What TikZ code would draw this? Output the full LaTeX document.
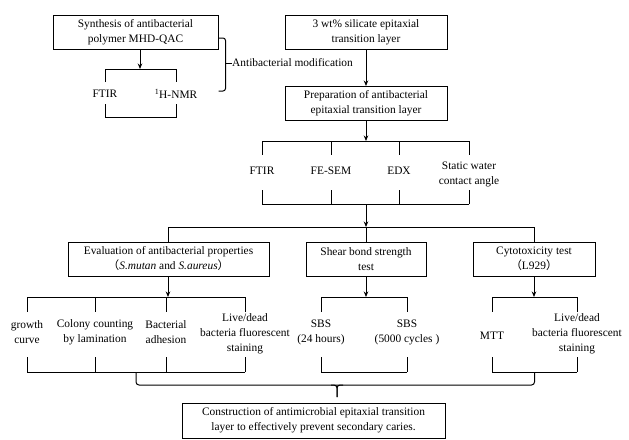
\documentclass[tikz,border=0pt]{standalone}
\usepackage{fontspec}
\setmainfont{Liberation Serif}
\newfontfamily\cjk{Noto Sans CJK SC}
\usetikzlibrary{arrows.meta,positioning,calc}

\begin{document}
\begin{tikzpicture}[
    x=1pt, y=-1pt,
    font=\fontsize{11.4}{15}\selectfont,
    box/.style={draw=black, line width=1pt, align=center, inner sep=2pt, minimum height=34pt},
    lbl/.style={align=center, inner sep=1pt},
    ln/.style={line width=1pt},
    arr/.style={line width=1pt, -{Stealth[length=5.5pt, width=4.5pt]}}
]
  \useasboundingbox (0,0) rectangle (629,439);

  % =========================================================================
  % TOPO: POLIMERO E CAMADA DE SILICATO
  % =========================================================================
  \node[box, minimum width=165pt] (syn) at (135.5,32) {Synthesis of antibacterial\\polymer MHD-QAC};
  \node[box, minimum width=162pt] (sil) at (366,32) {3 wt\% silicate epitaxial\\transition layer};
  \node[box, minimum width=162pt] (prep) at (366,103.5) {Preparation of antibacterial\\epitaxial transition layer};

  % caracterizacao do polimero
  \node[lbl] (ftira) at (105,94) {FTIR};
  \node[lbl] (nmr) at (176,94) {\textsuperscript{1}H-NMR};
  \coordinate (atop) at (140,69);
  \coordinate (abot) at (140,117);
  \draw[arr] (syn.south -| atop) -- (atop);
  \draw[ln] (ftira |- atop) ++(0,13) -- (ftira |- atop) -- (nmr |- atop) -- ++(0,13);
  \draw[ln] (ftira |- abot) ++(0,-13) -- (ftira |- abot) -- (nmr |- abot) -- ++(0,-13);

  % chave da modificacao
  \node[lbl, anchor=west, inner sep=0pt] (mod) at (232,63) {Antibacterial modification};
  \draw[ln, rounded corners=2.5pt] ([yshift=-6pt]syn.east) -- ++(7,0) -- ++(0,53) -- ++(-7,0);
  \draw[ln] (mod.west) -- ++(-7,0);
  \draw[arr] (sil) -- (prep);

  % =========================================================================
  % CARACTERIZACAO DA CAMADA
  % =========================================================================
  \node[lbl] (ftirb) at (262,171) {FTIR};
  \node[lbl] (sem) at (331,171) {FE-SEM};
  \node[lbl] (edx) at (399,171) {EDX};
  \node[lbl] (swca) at (469,174.5) {Static water\\contact angle};
  \coordinate (ctop) at (366,141);
  \coordinate (cbot) at (366,204);
  \draw[arr] (prep) -- (ctop);
  \foreach \n in {ftirb,sem,edx,swca}{
    \draw[ln] (\n |- ctop) -- ++(0,14);
    \draw[ln] (\n |- cbot) -- ++(0,-14);
  }
  \draw[ln] (ftirb |- ctop) -- (swca |- ctop);
  \draw[ln] (ftirb |- cbot) -- (swca |- cbot);

  % =========================================================================
  % TRES ENSAIOS
  % =========================================================================
  \node[box, minimum width=201pt] (eval) at (168.5,259) {Evaluation of antibacterial properties\\{\cjk （}\textit{S.mutan} and \textit{S.aureus}{\cjk ）}};
  \node[box, minimum width=120pt] (sbst) at (366,259) {Shear bond strength\\test};
  \node[box, minimum width=122pt] (cyto) at (534,259) {Cytotoxicity test\\{\cjk （}L929{\cjk ）}};

  \coordinate (split) at (366,227);
  \draw[arr] (cbot) -- (split);
  \draw[ln] (eval.north |- split) -- (cyto.north |- split);
  \draw[ln] (eval.north |- split) -- (eval.north);
  \draw[ln] (split) -- (sbst.north);
  \draw[ln] (cyto.north |- split) -- (cyto.north);

  % ensaios antibacterianos
  \node[lbl] (grow) at (27,332) {growth\\curve};
  \node[lbl] (colony) at (95,332) {Colony counting\\by lamination};
  \node[lbl] (adh) at (166,332) {Bacterial\\adhesion};
  \node[lbl] (livea) at (245,334) {Live/dead\\bacteria fluorescent\\staining};
  \coordinate (etop) at (168,297);
  \coordinate (ebot) at (168,372);
  \draw[arr] (eval.south -| etop) -- (etop);
  \foreach \n in {grow,colony,adh,livea}{
    \draw[ln] (\n |- etop) -- ++(0,15);
    \draw[ln] (\n |- ebot) -- ++(0,-15);
  }
  \draw[ln] (grow |- etop) -- (livea |- etop);
  \draw[ln] (grow |- ebot) -- (livea |- ebot);

  % resistencia ao cisalhamento
  \node[lbl] (sbs24) at (321,332) {SBS\\(24 hours)};
  \node[lbl] (sbs5k) at (407,332) {SBS\\(5000 cycles )};
  \coordinate (stop) at (366,297);
  \coordinate (sbot) at (366,372);
  \draw[arr] (sbst) -- (stop);
  \foreach \n in {sbs24,sbs5k}{
    \draw[ln] (\n |- stop) -- ++(0,15);
    \draw[ln] (\n |- sbot) -- ++(0,-15);
  }
  \draw[ln] (sbs24 |- stop) -- (sbs5k |- stop);
  \draw[ln] (sbs24 |- sbot) -- (sbs5k |- sbot);

  % citotoxicidade
  \node[lbl] (mtt) at (492,336) {MTT};
  \node[lbl] (liveb) at (577,334) {Live/dead\\bacteria fluorescent\\staining};
  \coordinate (ytop) at (534,297);
  \coordinate (ybot) at (534,372);
  \draw[arr] (cyto) -- (ytop);
  \foreach \n in {mtt,liveb}{
    \draw[ln] (\n |- ytop) -- ++(0,15);
    \draw[ln] (\n |- ybot) -- ++(0,-15);
  }
  \draw[ln] (mtt |- ytop) -- (liveb |- ytop);
  \draw[ln] (mtt |- ybot) -- (liveb |- ybot);

  % =========================================================================
  % CHAVE FINAL E CONCLUSAO
  % =========================================================================
  \coordinate (bmid) at (337,385);
  \coordinate (tip) at (337,397);
  \draw[ln, rounded corners=3pt] ($(grow |- ebot)!0.5!(livea |- ebot)$) -- ++(0,13) -| ($(mtt |- ybot)!0.5!(liveb |- ybot)$);
  \draw[ln, rounded corners=3pt] ([xshift=-6pt]bmid) -| (tip);
  \draw[ln, rounded corners=3pt] ([xshift=6pt]bmid) -| (tip);

  \node[box, minimum width=263pt, minimum height=35pt] (cons) at (313.5,420.5) {Construction of antimicrobial epitaxial transition\\layer to effectively prevent secondary caries.};

\end{tikzpicture}
\end{document}
